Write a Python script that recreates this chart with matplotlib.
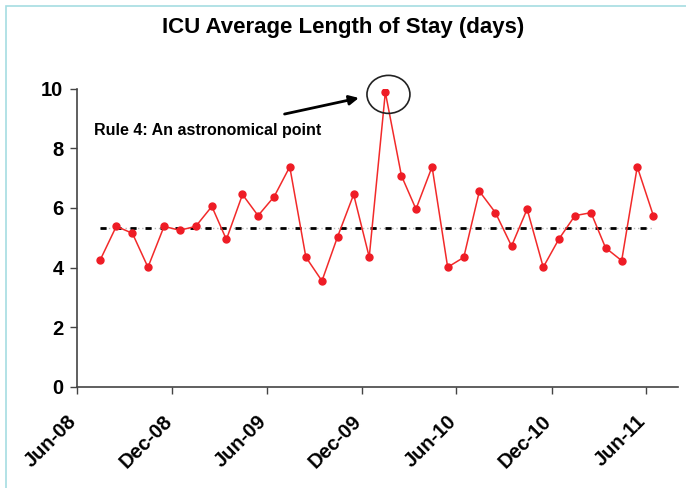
import datetime as dt
import matplotlib
matplotlib.use("Agg")
import matplotlib.pyplot as plt
import matplotlib.dates as mdates
import matplotlib.transforms as mtransforms
from matplotlib.patches import Ellipse, Rectangle

plt.rcParams['font.family'] = ['Liberation Sans', 'DejaVu Sans']
plt.rcParams['font.weight'] = 'bold'

# monthly ICU average length of stay, Jul-08 .. Jun-11
months = [dt.date(2008 + (6 + i) // 12, (6 + i) % 12 + 1, 15) for i in range(36)]
los = [4.25, 5.38, 5.15, 4.01, 5.38, 5.25, 5.38, 6.05, 4.94, 6.45,
       5.74, 6.38, 7.38, 4.35, 3.55, 5.03, 6.45, 4.35, 9.88, 7.08,
       5.96, 7.38, 4.01, 4.34, 6.56, 5.84, 4.72, 5.96, 4.01, 4.95,
       5.74, 5.84, 4.66, 4.23, 7.38, 5.74]
center = 5.34
outlier_idx = 18
note = "Rule 4: An astronomical point"
title = "ICU Average Length of Stay (days)"

fig = plt.figure(figsize=(6.86, 4.88), dpi=100)
ax = fig.add_axes([0.1127, 0.2076, 0.8753, 0.6106])

# light frame around the slide
fig.patches.append(Rectangle((6 / 686, -0.1), 1.2, 1 - 6 / 488 + 0.1,
                             transform=fig.transFigure, fill=False,
                             edgecolor='#a6dde2', lw=1.2))

ax.plot([months[0], months[-1]], [center, center], color='#b8b8b8',
        lw=1, ls=(0, (1, 2)), zorder=2)
ax.plot([months[0], months[-1]], [center, center], color='black',
        lw=2, ls=(0, (2.2, 3.2)), zorder=3)
ax.plot(months, los, color='#f22a2a', lw=1.1, marker='o', ms=5,
        mfc='#ee1c25', mec='#ee1c25', zorder=4)

ax.set_xlim(dt.date(2008, 6, 1), dt.date(2011, 8, 1))
ax.set_ylim(0, 10)
ax.set_yticks([0, 2, 4, 6, 8, 10])
ax.xaxis.set_major_locator(mdates.MonthLocator(bymonth=[6, 12]))
ax.xaxis.set_major_formatter(mdates.DateFormatter('%b-%y'))
ax.tick_params(axis='both', labelsize=14.5, color='#444444', length=5,
               width=1, direction='out')
ax.tick_params(axis='x', pad=13)
ax.tick_params(axis='y', pad=5)
shift = mtransforms.ScaledTranslation(-0.10, 0, fig.dpi_scale_trans)
for lab in ax.get_xticklabels():
    lab.set_rotation(45)
    lab.set_ha('right')
    lab.set_rotation_mode('anchor')
    lab.set_transform(lab.get_transform() + shift)
for s in ['top', 'right']:
    ax.spines[s].set_visible(False)
for s in ['left', 'bottom']:
    ax.spines[s].set_color('#444444')
    ax.spines[s].set_linewidth(1.2)

# circle the outlier
px_day = 600.7 / 1156
ax.add_patch(Ellipse((mdates.date2num(months[outlier_idx]) + 6, los[outlier_idx] - 0.07),
                     43 / px_day, 38 / 29.8, fill=False, ec='#222222', lw=1.2,
                     zorder=5, clip_on=False))
ax.annotate('', xy=(dt.date(2009, 11, 25), 9.69), xytext=(dt.date(2009, 7, 5), 9.15),
            arrowprops=dict(arrowstyle='-|>', color='black', lw=2,
                            mutation_scale=14, shrinkA=0, shrinkB=0))
ax.text(dt.date(2008, 7, 3), 8.6, note, fontsize=11.5, fontweight='bold',
        va='center', ha='left')

fig.text(0.5, 1 - 28 / 488, title, fontsize=16, fontweight='bold', ha='center',
         va='center')

fig.savefig('out.png', dpi=100, facecolor='white')
